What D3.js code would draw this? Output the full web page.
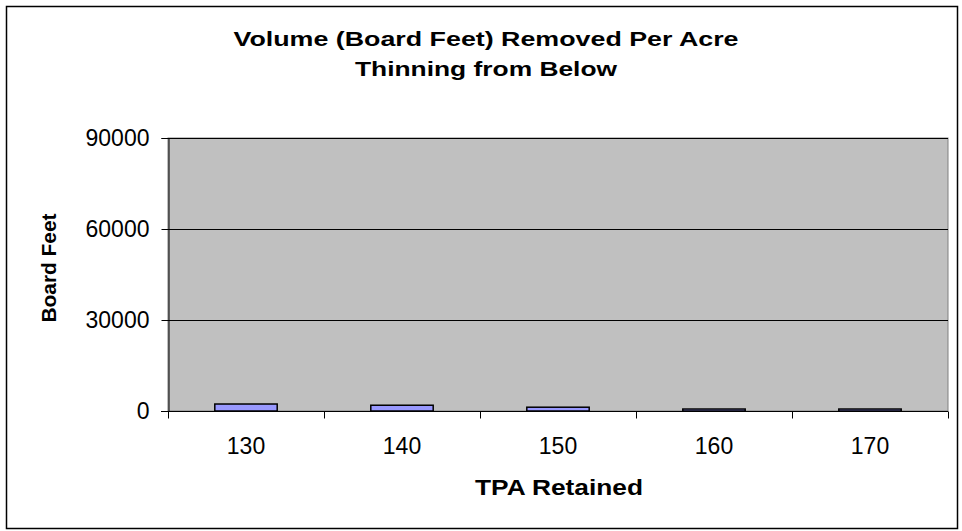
<!DOCTYPE html>
<html>
<head>
<meta charset="utf-8">
<script src="https://cdn.jsdelivr.net/npm/d3@7"></script>
<style>
  body { margin: 0; background: #fff; }
  text { font-family: Arial, "Liberation Sans", sans-serif; fill: #000; }
</style>
</head>
<body>
<div id="chart"></div>
<script>
const categories = ["130", "140", "150", "160", "170"];
const boardFeet = [2300, 1900, 1250, 650, 650];
const yTicks = [0, 30000, 60000, 90000];

const width = 962, height = 531,
  margin = ({ top: 138, right: 14, bottom: 120, left: 168 });

const svg = d3.select("#chart")
  .append("svg")
  .attr("width", width)
  .attr("height", height);

// outer frame
svg.append("rect")
  .attr("x", 6.5).attr("y", 6.5)
  .attr("width", 951).attr("height", 522)
  .attr("fill", "#fff")
  .attr("stroke", "#000")
  .attr("stroke-width", 1.5);

let x = d3.scaleBand()
  .domain(categories)
  .range([margin.left, width - margin.right])
  .paddingInner(0.6)
  .paddingOuter(0.3);

let y = d3.scaleLinear()
  .domain([0, 90000])
  .range([height - margin.bottom, margin.top]);

// plot background
svg.append("rect")
  .attr("x", margin.left).attr("y", margin.top)
  .attr("width", width - margin.right - margin.left)
  .attr("height", y(0) - margin.top)
  .attr("fill", "#c0c0c0")
  .attr("stroke", "#808080");

// gridlines
svg.append("g")
  .selectAll("line")
  .data(yTicks.filter(d => d > 0))
  .join("line")
  .attr("x1", margin.left).attr("x2", width - margin.right)
  .attr("y1", d => Math.round(y(d)) + 0.5).attr("y2", d => Math.round(y(d)) + 0.5)
  .attr("stroke", "#000");

// bars
svg.append("g")
  .selectAll("rect")
  .data(boardFeet)
  .join("rect")
  .attr("x", (d, i) => x(categories[i]))
  .attr("y", d => y(d))
  .attr("width", x.bandwidth())
  .attr("height", d => y(0) - y(d))
  .attr("fill", "#9999ff")
  .attr("stroke", "#000")
  .attr("stroke-width", 1.5);

// y axis
const yAxis = svg.append("g")
  .attr("transform", `translate(${margin.left + 0.5},0)`)
  .call(d3.axisLeft(y).tickValues(yTicks).tickSize(7).tickPadding(12).tickFormat(d => d));
yAxis.select(".domain").attr("stroke", "#000");
yAxis.selectAll(".tick text")
  .attr("font-family", "Arial, 'Liberation Sans', sans-serif")
  .attr("font-size", 23)
  .attr("dy", "0.34em");

// x axis with ticks between categories
const xEdge = d3.scaleLinear()
  .domain([0, categories.length])
  .range([margin.left, width - margin.right]);
const xAxis = svg.append("g")
  .attr("transform", `translate(0,${Math.round(y(0)) + 0.5})`);
xAxis.append("line")
  .attr("x1", margin.left - 7).attr("x2", width - margin.right)
  .attr("stroke", "#000");
xAxis.selectAll(".sep")
  .data(d3.range(categories.length + 1))
  .join("line")
  .attr("x1", d => Math.round(xEdge(d)) + 0.5).attr("x2", d => Math.round(xEdge(d)) + 0.5)
  .attr("y1", 0).attr("y2", 7)
  .attr("stroke", "#000");
xAxis.selectAll(".lab")
  .data(categories)
  .join("text")
  .attr("x", d => x(d) + x.bandwidth() / 2)
  .attr("y", 42)
  .attr("text-anchor", "middle")
  .style("font-size", "23px")
  .text(d => d);

// titles (the original glyphs are drawn wide, so stretch them)
svg.append("text")
  .attr("x", 486).attr("y", 46)
  .attr("text-anchor", "middle")
  .attr("textLength", 505).attr("lengthAdjust", "spacingAndGlyphs")
  .style("font-size", "21px").style("font-weight", "bold")
  .text("Volume (Board Feet) Removed Per Acre");
svg.append("text")
  .attr("x", 486).attr("y", 76)
  .attr("text-anchor", "middle")
  .attr("textLength", 262).attr("lengthAdjust", "spacingAndGlyphs")
  .style("font-size", "21px").style("font-weight", "bold")
  .text("Thinning from Below");

svg.append("text")
  .attr("x", 559).attr("y", 495)
  .attr("text-anchor", "middle")
  .attr("textLength", 168).attr("lengthAdjust", "spacingAndGlyphs")
  .style("font-size", "22px").style("font-weight", "bold")
  .text("TPA Retained");

svg.append("text")
  .attr("transform", "translate(56,268) rotate(-90)")
  .attr("text-anchor", "middle")
  .attr("textLength", 109).attr("lengthAdjust", "spacingAndGlyphs")
  .style("font-size", "21px").style("font-weight", "bold")
  .text("Board Feet");
</script>
</body>
</html>
